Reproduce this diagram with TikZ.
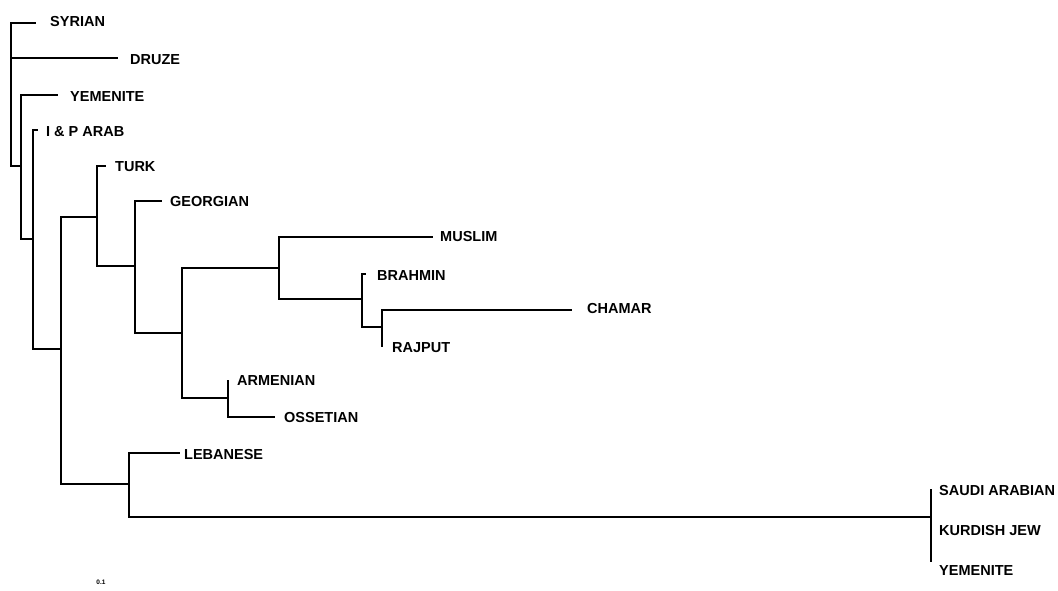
\documentclass[tikz,border=0pt]{standalone}
\usepackage{fontspec}
\setmainfont{Liberation Sans}
\usepackage{tikz}
\usetikzlibrary{positioning}

\begin{document}
\begin{tikzpicture}[
        x=1pt, y=-1pt,
        every node/.style={font=\fontsize{14.5}{15}\selectfont\bfseries},
        taxon/.style={anchor=base west, inner sep=0pt, yshift=-5.2pt},
        scalelbl/.style={font=\fontsize{6.5}{7}\selectfont\bfseries, inner sep=0pt},
        branch/.style={draw=black, line width=1.9pt}
    ]
    \useasboundingbox (0,0) rectangle (1058,590);

    % =============== simpul dalam: (x batang tegak, y cabang induk) ===============
    \coordinate (root) at (11,58);
    \coordinate (nA) at (21,166);
    \coordinate (nB) at (33,239);
    \coordinate (nC) at (61,349);
    \coordinate (nD) at (97,217);
    \coordinate (nE) at (135,266);
    \coordinate (nF) at (182,333);
    \coordinate (nG) at (279,268);
    \coordinate (nI) at (362,299);
    \coordinate (nJ) at (382,327);
    \coordinate (nH) at (228,398);
    \coordinate (nL) at (129,484);
    \coordinate (nK) at (931,517);

    % ujung cabang
    \coordinate (tSyr) at (36,23);
    \coordinate (tDru) at (118,58);
    \coordinate (tYem) at (58,95);
    \coordinate (tIPA) at (38,130);
    \coordinate (tTur) at (106,166);
    \coordinate (tGeo) at (162,201);
    \coordinate (tMus) at (433,237);
    \coordinate (tBra) at (366,274);
    \coordinate (tCha) at (572,310);
    \coordinate (tRaj) at (382,347);
    \coordinate (tArm) at (228,380);
    \coordinate (tOss) at (275,417);
    \coordinate (tLeb) at (180,453);
    \coordinate (tSau) at (931,489);
    \coordinate (tKur) at (931,530);
    \coordinate (tYmb) at (931,562);

    % =============== cabang pohon ===============
    \draw[branch] (root) |- (tSyr) (root) |- (tDru) (root) |- (nA);
    \draw[branch] (nA) |- (tYem) (nA) |- (nB);
    \draw[branch] (nB) |- (tIPA) (nB) |- (nC);
    \draw[branch] (nC) |- (nD) (nC) |- (nL);
    \draw[branch] (nD) |- (tTur) (nD) |- (nE);
    \draw[branch] (nE) |- (tGeo) (nE) |- (nF);
    \draw[branch] (nF) |- (nG) (nF) |- (nH);
    \draw[branch] (nG) |- (tMus) (nG) |- (nI);
    \draw[branch] (nI) |- (tBra) (nI) |- (nJ);
    \draw[branch] (nJ) |- (tCha) (nJ) |- (tRaj);
    \draw[branch] (nH) |- (tArm) (nH) |- (tOss);
    \draw[branch] (nL) |- (tLeb) (nL) |- (nK);
    \draw[branch] (nK) |- (tSau) (nK) |- (tKur) (nK) |- (tYmb);

    % =============== label takson ===============
    \node[taxon] (syrian) at (50,21) {SYRIAN};
    \node[taxon] (druze) at (130,59) {DRUZE};
    \node[taxon] (yemenite) at (70,96) {YEMENITE};
    \node[taxon] (iparab) at (46,131) {I \& P ARAB};
    \node[taxon] (turk) at (115,166) {TURK};
    \node[taxon] (georgian) at (170,201) {GEORGIAN};
    \node[taxon] (muslim) at (440,236) {MUSLIM};
    \node[taxon] (brahmin) at (377,275) {BRAHMIN};
    \node[taxon] (chamar) at (587,308) {CHAMAR};
    \node[taxon] (rajput) at (392,347) {RAJPUT};
    \node[taxon] (armenian) at (237,380) {ARMENIAN};
    \node[taxon] (ossetian) at (284,417) {OSSETIAN};
    \node[taxon] (lebanese) at (184,454) {LEBANESE};
    \node[taxon] (saudi) at (939,490) {SAUDI ARABIAN};
    \node[taxon] (kurdish) at (939,530) {KURDISH JEW};
    \node[taxon] (yemeniteb) at (939,570) {YEMENITE};

    \node[scalelbl] (scale) at (101,582) {0.1};
\end{tikzpicture}
\end{document}
